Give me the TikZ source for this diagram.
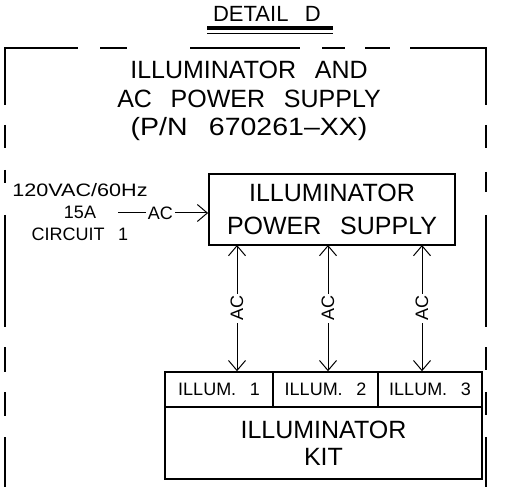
\documentclass[tikz,border=0pt]{standalone}
\usepackage{fontspec}
\setmainfont{Liberation Sans}
\usetikzlibrary{arrows.meta}
\newcommand{\wgap}{\hspace{0.75em}}
\begin{document}
\begin{tikzpicture}[x=1pt, y=-1pt,
    border/.style={line width=2.4pt},
    box/.style={draw, line width=1.8pt, inner sep=0pt, align=center},
    big/.style={font=\fontsize{25}{28.5}\selectfont, align=center},
    small/.style={font=\fontsize{18}{22}\selectfont, align=center},
    wire/.style={line width=1pt},
    lbl/.style={small, fill=white, inner sep=2pt},
    >={Straight Barb[length=10pt,width=17pt]}]
    \useasboundingbox (0,0) rectangle (507,487);

    % 标题
    \node[font=\fontsize{22}{24}\selectfont] (detail) at (267,14) {DETAIL\wgap D};
    \draw[line width=4pt] (207,28) -- (333,28);
    \draw[line width=1.2pt] (207,33.5) -- (333,33.5);

    % 虚线边框
    \draw[border] (5,105) -- (5,48) -- (78,48);
    \draw[border] (410,48) -- (486,48) -- (486,105);
    \foreach \a/\b in {100/127, 190/300, 322/345, 365/390}
        \draw[border] (\a,48) -- (\b,48);
    \foreach \a/\b in {125/148, 170/183, 215/327, 347/372, 392/416, 437/487}
        \draw[border] (5,\a) -- (5,\b);
    \foreach \a/\b in {125/148, 172/192, 215/327, 347/370, 392/415, 437/487}
        \draw[border] (486,\a) -- (486,\b);

    \node[big] (title) at (249,101) {ILLUMINATOR\wgap AND\\AC\wgap POWER\wgap SUPPLY\\\scalebox{1.14}[1]{(P/N\wgap 670261--XX)}};

    % 电源
    \node[box, big, minimum width=246pt, minimum height=71pt,
          font=\fontsize{25}{33}\selectfont] (psu) at (332,209.5)
        {ILLUMINATOR\\POWER\wgap SUPPLY};
    \node[small] (src) at (80,212) {\scalebox{1.2}[1]{120VAC/60Hz}\\15A\\CIRCUIT\wgap 1};

    % 照明套件
    \node[box, small, minimum width=108pt, minimum height=35pt, line width=1.5pt] (illum1) at (219,389.5) {ILLUM.\wgap 1};
    \node[box, small, minimum width=105pt, minimum height=35pt, line width=1.5pt] (illum2) at (325.5,389.5) {ILLUM.\wgap 2};
    \node[box, small, minimum width=104pt, minimum height=35pt, line width=1.5pt] (illum3) at (430,389.5) {ILLUM.\wgap 3};
    \node[box, big, minimum width=317pt, minimum height=72pt,
          font=\fontsize{25}{27}\selectfont] (kit) at (323.5,443) {ILLUMINATOR\\KIT};

    % 连线
    \coordinate (acin) at (118,213);
    \draw[wire, ->] (acin) -- node[lbl, pos=0.47] {AC} (acin -| psu.west);
    \coordinate (t1) at (237,245);
    \coordinate (t2) at (328,245);
    \coordinate (t3) at (422,245);
    \draw[wire, <->] (t1) -- node[lbl, rotate=90] {AC} (t1 |- illum1.north);
    \draw[wire, <->] (t2) -- node[lbl, rotate=90] {AC} (t2 |- illum2.north);
    \draw[wire, <->] (t3) -- node[lbl, rotate=90] {AC} (t3 |- illum3.north);
\end{tikzpicture}
\end{document}
